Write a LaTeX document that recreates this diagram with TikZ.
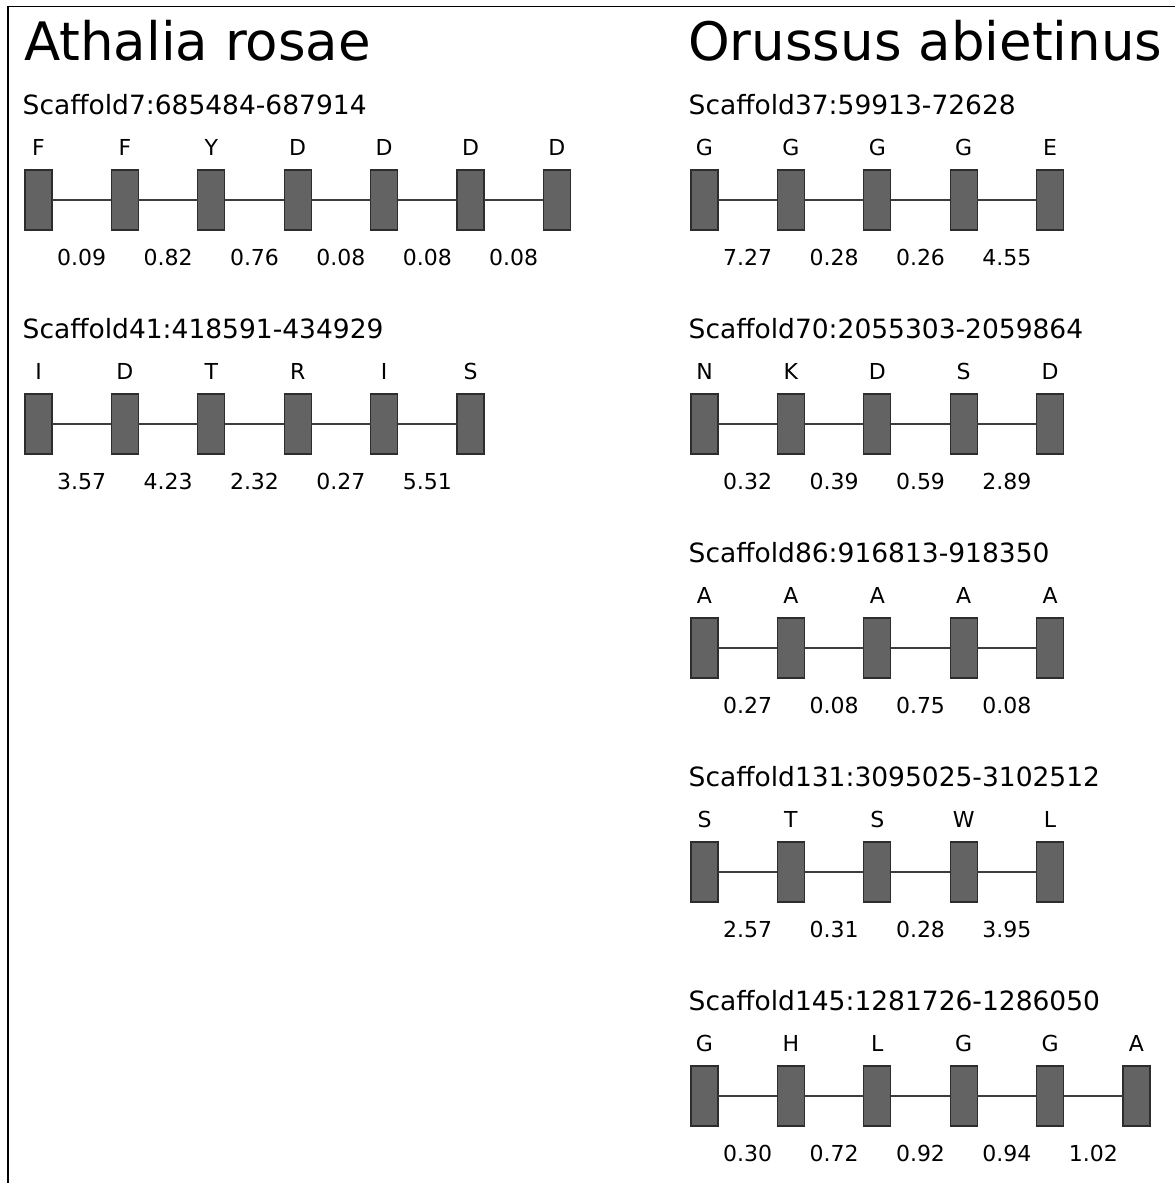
\documentclass[tikz,border=0pt]{standalone}
\usepackage{fontspec}
\setmainfont{DejaVu Sans}
\usetikzlibrary{calc}
\definecolor{exonfill}{RGB}{99,99,99}
\definecolor{exonline}{RGB}{45,45,45}
\definecolor{intronline}{RGB}{60,60,60}
\tikzset{
  exon/.style={draw=exonline, fill=exonfill, line width=1.2pt, minimum width=27pt, minimum height=60pt, inner sep=0pt, outer sep=0pt},
  intron/.style={draw=intronline, line width=1.4pt},
  title/.style={anchor=base west, inner sep=0pt, font=\fontsize{53}{60}\selectfont},
  scaf/.style={anchor=base west, inner sep=0pt, font=\fontsize{26.5}{30}\selectfont},
  lett/.style={anchor=base, inner sep=0pt, font=\fontsize{22}{26}\selectfont},
  num/.style={anchor=base, inner sep=0pt, font=\fontsize{22}{26}\selectfont},
}
% #1 prefix, #2 left x of first box, #3 top y of boxes, #4 scaffold label, #5 letters, #6 numbers
\newcommand{\genemodel}[6]{%
  \node[scaf] (#1-t) at (#2-2.5, #3-56) {#4};
  \foreach \L [count=\i from 0] in {#5} {
    \node[exon] (#1-\i) at (#2+13.5+86.4*\i, #3+30) {};
    \node[lett] (#1-l\i) at (#2+13.5+86.4*\i, #3-15) {\L};
  }
  \foreach \n [count=\i from 0] in {#6} {
    \pgfmathtruncatemacro{\j}{\i+1}
    \draw[intron] (#1-\i) -- (#1-\j);
    \node[num] (#1-n\i) at (#2+13.5+86.4*\i+43.2, #3+95) {\n};
  }
}
\begin{document}
\begin{tikzpicture}[x=1pt, y=-1pt]
\useasboundingbox (0,0) rectangle (1175,1183);
\draw[line width=1.6pt] (8,1183) -- (8,6.5) -- (1175,6.5);
\node[title] (t1) at (24,60) {Athalia rosae};
\node[title] (t2) at (688,60) {Orussus abietinus};
\genemodel{a7}{25}{170}{Scaffold7:685484-687914}{F,F,Y,D,D,D,D}{0.09,0.82,0.76,0.08,0.08,0.08}
\genemodel{a41}{25}{394}{Scaffold41:418591-434929}{I,D,T,R,I,S}{3.57,4.23,2.32,0.27,5.51}
\genemodel{o37}{691}{170}{Scaffold37:59913-72628}{G,G,G,G,E}{7.27,0.28,0.26,4.55}
\genemodel{o70}{691}{394}{Scaffold70:2055303-2059864}{N,K,D,S,D}{0.32,0.39,0.59,2.89}
\genemodel{o86}{691}{618}{Scaffold86:916813-918350}{A,A,A,A,A}{0.27,0.08,0.75,0.08}
\genemodel{o131}{691}{842}{Scaffold131:3095025-3102512}{S,T,S,W,L}{2.57,0.31,0.28,3.95}
\genemodel{o145}{691}{1066}{Scaffold145:1281726-1286050}{G,H,L,G,G,A}{0.30,0.72,0.92,0.94,1.02}
\end{tikzpicture}
\end{document}
